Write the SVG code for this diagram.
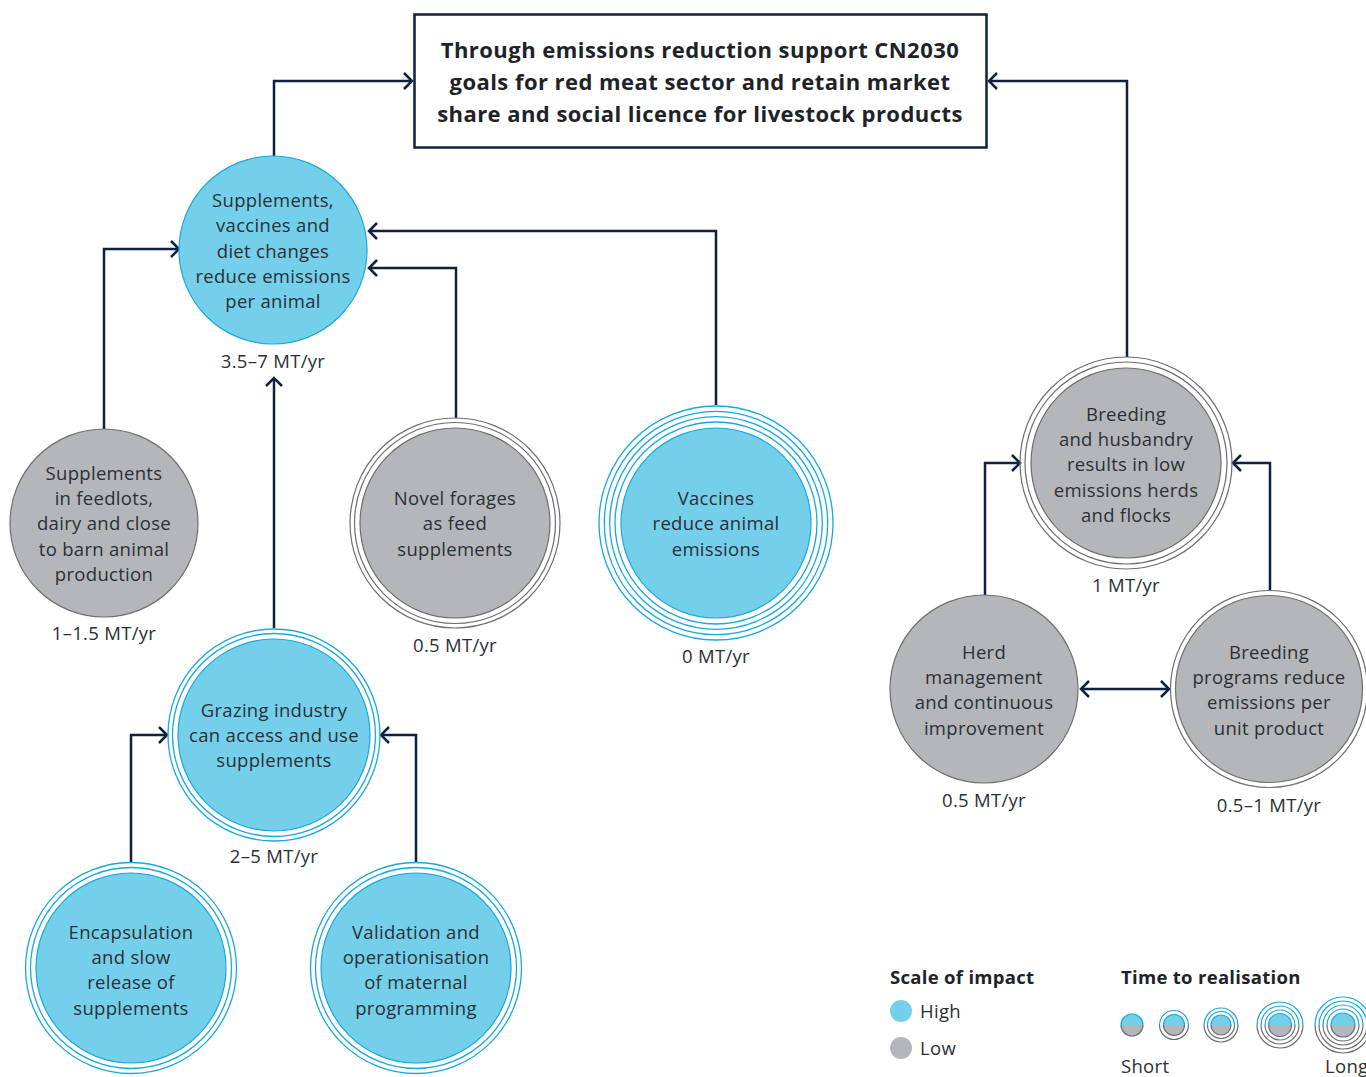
<svg xmlns="http://www.w3.org/2000/svg" width="1366" height="1077" viewBox="0 0 1366 1077">
  <style>
    .bg { fill: #ffffff; }
    .hi { fill: #74CFEA; stroke: #17A9DC; stroke-width: 1.2; }
    .lo { fill: #B5B6BA; stroke: #6D6E71; stroke-width: 1.2; }
    .ring-hi { fill: none; stroke: #17A9DC; stroke-width: 1.3; }
    .ring-lo { fill: none; stroke: #6D6E71; stroke-width: 1.2; }
    .lbl { font-family: "Open Sans", "Noto Sans", sans-serif; font-size: 18.5px; letter-spacing: 0.3px; fill: #2B3036; text-anchor: middle; }
    .val { font-family: "Open Sans", "Noto Sans", sans-serif; font-size: 18.5px; letter-spacing: 0.3px; fill: #2B3036; text-anchor: middle; }
    .title { font-family: "Open Sans", "Noto Sans", sans-serif; font-size: 22px; font-weight: 700; letter-spacing: 0.45px; fill: #1E2328; text-anchor: middle; }
    .lg-head { font-family: "Open Sans", "Noto Sans", sans-serif; font-size: 18.5px; font-weight: 700; letter-spacing: 0.3px; fill: #1E2328; }
    .lg { font-family: "Open Sans", "Noto Sans", sans-serif; font-size: 18.5px; letter-spacing: 0.3px; fill: #2B3036; }
    .conn { fill: none; stroke: #0E2240; stroke-width: 2.5; }
  </style>
  <defs>
    <marker id="chev" markerUnits="userSpaceOnUse" viewBox="-10 -10 12 20" refX="0" refY="0" markerWidth="12" markerHeight="20" orient="auto-start-reverse">
      <path d="M-8,-8 L0,0 L-8,8" fill="none" stroke="#0E2240" stroke-width="2.5"/>
    </marker>
    <clipPath id="topHalf" clipPathUnits="objectBoundingBox">
      <rect x="-0.2" y="-0.2" width="1.4" height="0.7"/>
    </clipPath>
    <clipPath id="bottomHalf" clipPathUnits="objectBoundingBox">
      <rect x="-0.2" y="0.5" width="1.4" height="0.7"/>
    </clipPath>
  </defs>

  <rect class="bg" x="0" y="0" width="1366" height="1077"/>

  <!-- connectors -->
  <g id="connectors">
    <path class="conn" d="M274,156 V81 H412" marker-end="url(#chev)"/>
    <path class="conn" d="M1127,357 V81 H989" marker-end="url(#chev)"/>
    <path class="conn" d="M104,429 V249 H179" marker-end="url(#chev)"/>
    <path class="conn" d="M456,418 V268 H369" marker-end="url(#chev)"/>
    <path class="conn" d="M716,405 V231 H369" marker-end="url(#chev)"/>
    <path class="conn" d="M274,628 V378" marker-end="url(#chev)"/>
    <path class="conn" d="M131,862 V735 H167" marker-end="url(#chev)"/>
    <path class="conn" d="M416,862 V735 H381" marker-end="url(#chev)"/>
    <path class="conn" d="M985,595 V463 H1020" marker-end="url(#chev)"/>
    <path class="conn" d="M1270,590 V463 H1233" marker-end="url(#chev)"/>
    <path class="conn" d="M1081,689 H1169" marker-start="url(#chev)" marker-end="url(#chev)"/>
  </g>

  <!-- goal box -->
  <g id="goal">
    <rect x="414.5" y="14.5" width="572" height="133" fill="#ffffff" stroke="#0E2240" stroke-width="2.5"/>
    <text class="title" x="700" y="58">Through emissions reduction support CN2030</text>
    <text class="title" x="700" y="90">goals for red meat sector and retain market</text>
    <text class="title" x="700" y="122">share and social licence for livestock products</text>
  </g>

  <!-- Supplements, vaccines and diet changes -->
  <g id="n-supplements-vaccines-diet">
    <circle class="hi" cx="273" cy="250" r="94"/>
    <text class="lbl" x="273" y="207">Supplements,</text>
    <text class="lbl" x="273" y="232">vaccines and</text>
    <text class="lbl" x="273" y="258">diet changes</text>
    <text class="lbl" x="273" y="283">reduce emissions</text>
    <text class="lbl" x="273" y="308">per animal</text>
    <text class="val" x="273" y="368">3.5–7 MT/yr</text>
  </g>

  <!-- Supplements in feedlots -->
  <g id="n-feedlots">
    <circle class="lo" cx="104" cy="523" r="94"/>
    <text class="lbl" x="104" y="480">Supplements</text>
    <text class="lbl" x="104" y="505">in feedlots,</text>
    <text class="lbl" x="104" y="530">dairy and close</text>
    <text class="lbl" x="104" y="556">to barn animal</text>
    <text class="lbl" x="104" y="581">production</text>
    <text class="val" x="104" y="640">1–1.5 MT/yr</text>
  </g>

  <!-- Novel forages -->
  <g id="n-novel-forages">
    <circle class="ring-lo" cx="455" cy="523" r="105"/>
    <circle class="ring-lo" cx="455" cy="523" r="100.5"/>
    <circle class="lo" cx="455" cy="523" r="95"/>
    <text class="lbl" x="455" y="505">Novel forages</text>
    <text class="lbl" x="455" y="530">as feed</text>
    <text class="lbl" x="455" y="556">supplements</text>
    <text class="val" x="455" y="652">0.5 MT/yr</text>
  </g>

  <!-- Vaccines -->
  <g id="n-vaccines">
    <circle class="ring-hi" cx="716" cy="523" r="117"/>
    <circle class="ring-hi" cx="716" cy="523" r="111.7"/>
    <circle class="ring-hi" cx="716" cy="523" r="106.3"/>
    <circle class="ring-hi" cx="716" cy="523" r="101"/>
    <circle class="hi" cx="716" cy="523" r="95"/>
    <text class="lbl" x="716" y="505">Vaccines</text>
    <text class="lbl" x="716" y="530">reduce animal</text>
    <text class="lbl" x="716" y="556">emissions</text>
    <text class="val" x="716" y="663">0 MT/yr</text>
  </g>

  <!-- Grazing industry -->
  <g id="n-grazing">
    <circle class="ring-hi" cx="274" cy="735" r="106"/>
    <circle class="ring-hi" cx="274" cy="735" r="101.5"/>
    <circle class="hi" cx="274" cy="735" r="96"/>
    <text class="lbl" x="274" y="717">Grazing industry</text>
    <text class="lbl" x="274" y="742">can access and use</text>
    <text class="lbl" x="274" y="767">supplements</text>
    <text class="val" x="274" y="863">2–5 MT/yr</text>
  </g>

  <!-- Encapsulation -->
  <g id="n-encapsulation">
    <circle class="ring-hi" cx="131" cy="968" r="105.5"/>
    <circle class="ring-hi" cx="131" cy="968" r="100.5"/>
    <circle class="hi" cx="131" cy="968" r="95"/>
    <text class="lbl" x="131" y="939">Encapsulation</text>
    <text class="lbl" x="131" y="964">and slow</text>
    <text class="lbl" x="131" y="989">release of</text>
    <text class="lbl" x="131" y="1015">supplements</text>
  </g>

  <!-- Validation -->
  <g id="n-validation">
    <circle class="ring-hi" cx="416" cy="968" r="105.5"/>
    <circle class="ring-hi" cx="416" cy="968" r="100.5"/>
    <circle class="hi" cx="416" cy="968" r="95"/>
    <text class="lbl" x="416" y="939">Validation and</text>
    <text class="lbl" x="416" y="964">operationisation</text>
    <text class="lbl" x="416" y="989">of maternal</text>
    <text class="lbl" x="416" y="1015">programming</text>
  </g>

  <!-- Breeding and husbandry -->
  <g id="n-breeding-husbandry">
    <circle class="ring-lo" cx="1126" cy="463" r="106"/>
    <circle class="ring-lo" cx="1126" cy="463" r="101"/>
    <circle class="lo" cx="1126" cy="463" r="95"/>
    <text class="lbl" x="1126" y="421">Breeding</text>
    <text class="lbl" x="1126" y="446">and husbandry</text>
    <text class="lbl" x="1126" y="471">results in low</text>
    <text class="lbl" x="1126" y="497">emissions herds</text>
    <text class="lbl" x="1126" y="522">and flocks</text>
    <text class="val" x="1126" y="592">1 MT/yr</text>
  </g>

  <!-- Herd management -->
  <g id="n-herd-management">
    <circle class="lo" cx="984" cy="689" r="94"/>
    <text class="lbl" x="984" y="659">Herd</text>
    <text class="lbl" x="984" y="684">management</text>
    <text class="lbl" x="984" y="709">and continuous</text>
    <text class="lbl" x="984" y="735">improvement</text>
    <text class="val" x="984" y="807">0.5 MT/yr</text>
  </g>

  <!-- Breeding programs -->
  <g id="n-breeding-programs">
    <circle class="ring-lo" cx="1269" cy="689" r="98.5"/>
    <circle class="lo" cx="1269" cy="689" r="93.5"/>
    <text class="lbl" x="1269" y="659">Breeding</text>
    <text class="lbl" x="1269" y="684">programs reduce</text>
    <text class="lbl" x="1269" y="709">emissions per</text>
    <text class="lbl" x="1269" y="735">unit product</text>
    <text class="val" x="1269" y="812">0.5–1 MT/yr</text>
  </g>

  <!-- legend: scale of impact -->
  <g id="legend-impact">
    <text class="lg-head" x="890" y="984">Scale of impact</text>
    <circle cx="901" cy="1011" r="11" fill="#74CFEA"/>
    <text class="lg" x="920" y="1018">High</text>
    <circle cx="901" cy="1048" r="11" fill="#B5B6BA"/>
    <text class="lg" x="920" y="1055">Low</text>
  </g>

  <!-- legend: time to realisation (upper half blue, lower half grey) -->
  <g id="legend-time">
    <text class="lg-head" x="1121" y="984">Time to realisation</text>

    <g clip-path="url(#topHalf)">
      <circle cx="1132" cy="1025" r="11" fill="#74CFEA" stroke="#17A9DC" stroke-width="1.2"/>
    </g>
    <g clip-path="url(#bottomHalf)">
      <circle cx="1132" cy="1025" r="11" fill="#B5B6BA" stroke="#6D6E71" stroke-width="1.2"/>
    </g>

    <g clip-path="url(#topHalf)">
      <circle cx="1174" cy="1025" r="14.5" fill="none" stroke="#17A9DC" stroke-width="1.2"/>
      <circle cx="1174" cy="1025" r="10.5" fill="#74CFEA" stroke="#17A9DC" stroke-width="1.2"/>
    </g>
    <g clip-path="url(#bottomHalf)">
      <circle cx="1174" cy="1025" r="14.5" fill="none" stroke="#6D6E71" stroke-width="1.2"/>
      <circle cx="1174" cy="1025" r="10.5" fill="#B5B6BA" stroke="#6D6E71" stroke-width="1.2"/>
    </g>

    <g clip-path="url(#topHalf)">
      <circle cx="1221" cy="1025" r="17" fill="none" stroke="#17A9DC" stroke-width="1.2"/>
      <circle cx="1221" cy="1025" r="13.5" fill="none" stroke="#17A9DC" stroke-width="1.2"/>
      <circle cx="1221" cy="1025" r="10" fill="#74CFEA" stroke="#17A9DC" stroke-width="1.2"/>
    </g>
    <g clip-path="url(#bottomHalf)">
      <circle cx="1221" cy="1025" r="17" fill="none" stroke="#6D6E71" stroke-width="1.2"/>
      <circle cx="1221" cy="1025" r="13.5" fill="none" stroke="#6D6E71" stroke-width="1.2"/>
      <circle cx="1221" cy="1025" r="10" fill="#B5B6BA" stroke="#6D6E71" stroke-width="1.2"/>
    </g>

    <g clip-path="url(#topHalf)">
      <circle cx="1280" cy="1025" r="23" fill="none" stroke="#17A9DC" stroke-width="1.2"/>
      <circle cx="1280" cy="1025" r="19" fill="none" stroke="#17A9DC" stroke-width="1.2"/>
      <circle cx="1280" cy="1025" r="15" fill="none" stroke="#17A9DC" stroke-width="1.2"/>
      <circle cx="1280" cy="1025" r="11.5" fill="#74CFEA" stroke="#17A9DC" stroke-width="1.2"/>
    </g>
    <g clip-path="url(#bottomHalf)">
      <circle cx="1280" cy="1025" r="23" fill="none" stroke="#6D6E71" stroke-width="1.2"/>
      <circle cx="1280" cy="1025" r="19" fill="none" stroke="#6D6E71" stroke-width="1.2"/>
      <circle cx="1280" cy="1025" r="15" fill="none" stroke="#6D6E71" stroke-width="1.2"/>
      <circle cx="1280" cy="1025" r="11.5" fill="#B5B6BA" stroke="#6D6E71" stroke-width="1.2"/>
    </g>

    <g clip-path="url(#topHalf)">
      <circle cx="1343" cy="1025" r="28" fill="none" stroke="#17A9DC" stroke-width="1.2"/>
      <circle cx="1343" cy="1025" r="24" fill="none" stroke="#17A9DC" stroke-width="1.2"/>
      <circle cx="1343" cy="1025" r="20" fill="none" stroke="#17A9DC" stroke-width="1.2"/>
      <circle cx="1343" cy="1025" r="16" fill="none" stroke="#17A9DC" stroke-width="1.2"/>
      <circle cx="1343" cy="1025" r="12" fill="#74CFEA" stroke="#17A9DC" stroke-width="1.2"/>
    </g>
    <g clip-path="url(#bottomHalf)">
      <circle cx="1343" cy="1025" r="28" fill="none" stroke="#6D6E71" stroke-width="1.2"/>
      <circle cx="1343" cy="1025" r="24" fill="none" stroke="#6D6E71" stroke-width="1.2"/>
      <circle cx="1343" cy="1025" r="20" fill="none" stroke="#6D6E71" stroke-width="1.2"/>
      <circle cx="1343" cy="1025" r="16" fill="none" stroke="#6D6E71" stroke-width="1.2"/>
      <circle cx="1343" cy="1025" r="12" fill="#B5B6BA" stroke="#6D6E71" stroke-width="1.2"/>
    </g>

    <text class="lg" x="1121" y="1073">Short</text>
    <text class="lg" x="1325" y="1073">Long</text>
  </g>
</svg>
